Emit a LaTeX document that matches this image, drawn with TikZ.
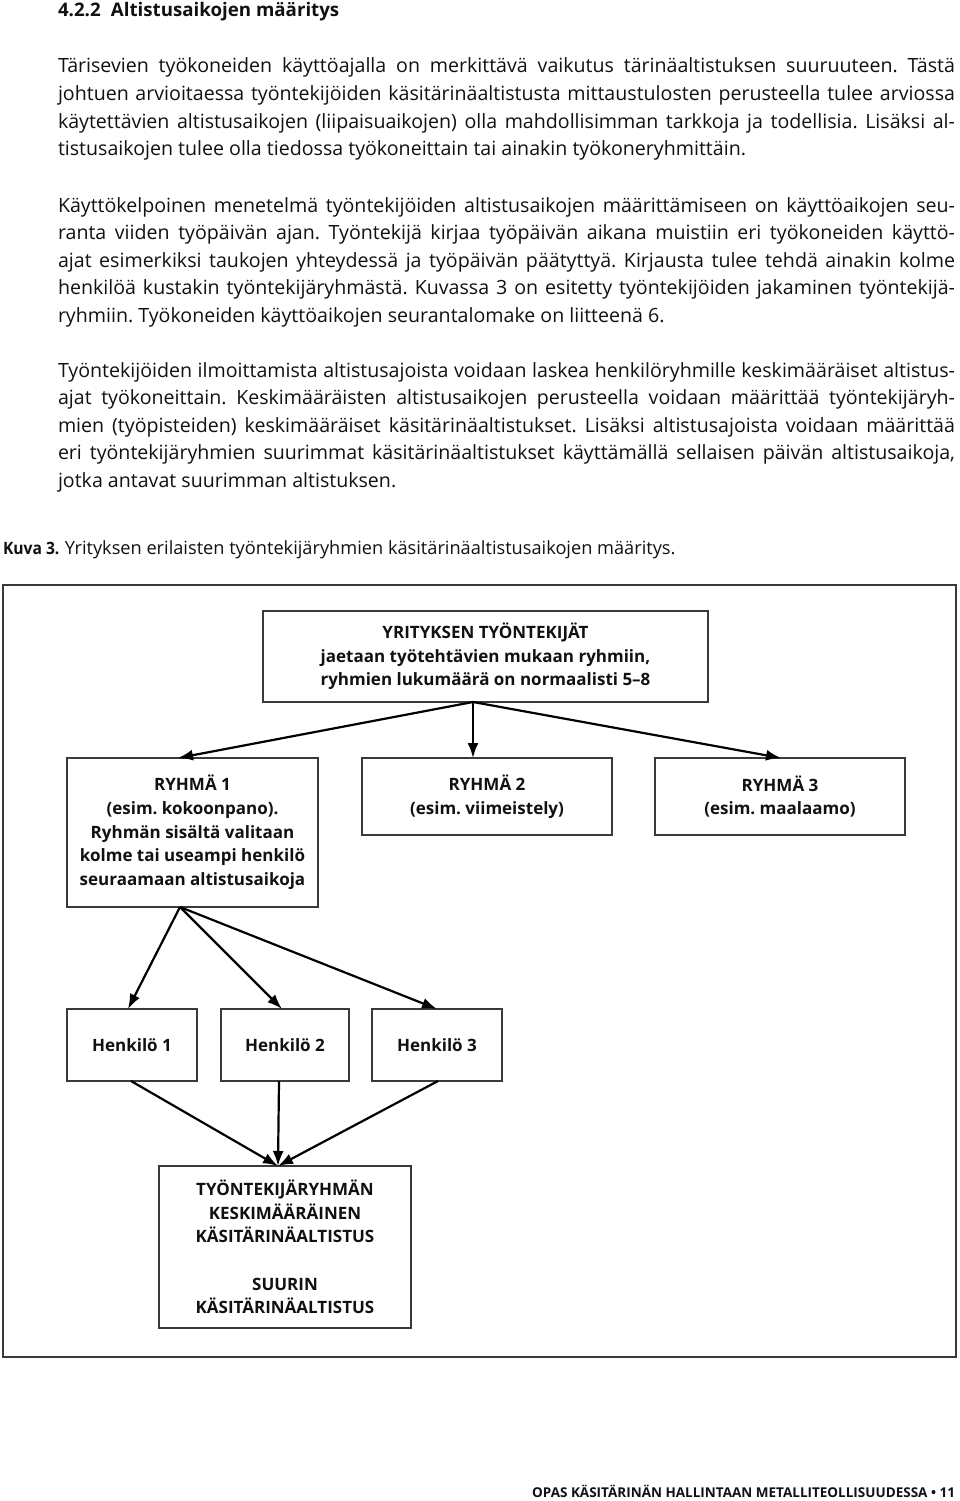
\documentclass[tikz,border=0pt]{standalone}
\usepackage{fontspec}
\setmainfont{Open Sans}
\newfontfamily\bodyfont{Open Sans}
\newfontfamily\capfont[FakeStretch=0.92]{Open Sans}
\usetikzlibrary{arrows.meta}
\definecolor{ink}{HTML}{111111}
\definecolor{boxline}{HTML}{3A3A3A}
\newcommand\jline[1]{\hbox to 897pt{#1}}
\newcommand\lline[1]{\hbox{#1}}
\frenchspacing
\begin{document}
\frenchspacing
\begin{tikzpicture}[x=1pt,y=-1pt,
  txt/.style={inner sep=0pt, outer sep=0pt, text=ink},
  para/.style={txt, anchor=base west, font=\bodyfont\fontsize{19.6}{27.6}\selectfont},
  box/.style={draw=boxline, line width=1.4pt, inner sep=0pt, outer sep=0pt, text=ink, align=center, font=\bfseries\fontsize{17}{23.7}\selectfont},
  arr/.style={line width=2.2pt, draw=black, -{Latex[length=15pt,width=11pt]}},
]
\useasboundingbox (0,0) rectangle (960,1501);
\fill[white] (0,0) rectangle (960,1501);

% heading and body text
\node[txt, anchor=base west, font=\bfseries\fontsize{18.7}{23}\selectfont] (head) at (58,17) {4.2.2\hspace{0.55em}Altistusaikojen määritys};

\node[para] (p1) at (58,73) {\vtop{%
\jline{Tärisevien työkoneiden käyttöajalla on merkittävä vaikutus tärinäaltistuksen suuruuteen. Tästä}%
\jline{johtuen arvioitaessa työntekijöiden käsitärinäaltistusta mittaustulosten perusteella tulee arviossa}%
\jline{käytettävien altistusaikojen (liipaisuaikojen) olla mahdollisimman tarkkoja ja todellisia. Lisäksi al-}%
\lline{tistusaikojen tulee olla tiedossa työkoneittain tai ainakin työkoneryhmittäin.}}};

\node[para] (p2) at (58,212) {\vtop{%
\jline{Käyttökelpoinen menetelmä työntekijöiden altistusaikojen määrittämiseen on käyttöaikojen seu-}%
\jline{ranta viiden työpäivän ajan. Työntekijä kirjaa työpäivän aikana muistiin eri työkoneiden käyttö-}%
\jline{ajat esimerkiksi taukojen yhteydessä ja työpäivän päätyttyä. Kirjausta tulee tehdä ainakin kolme}%
\jline{henkilöä kustakin työntekijäryhmästä. Kuvassa 3 on esitetty työntekijöiden jakaminen työntekijä-}%
\lline{ryhmiin. Työkoneiden käyttöaikojen seurantalomake on liitteenä 6.}}};

\node[para] (p3) at (58,377) {\vtop{%
\jline{Työntekijöiden ilmoittamista altistusajoista voidaan laskea henkilöryhmille keskimääräiset altistus-}%
\jline{ajat työkoneittain. Keskimääräisten altistusaikojen perusteella voidaan määrittää työntekijäryh-}%
\jline{mien (työpisteiden) keskimääräiset käsitärinäaltistukset. Lisäksi altistusajoista voidaan määrittää}%
\jline{eri työntekijäryhmien suurimmat käsitärinäaltistukset käyttämällä sellaisen päivän altistusaikoja,}%
\lline{jotka antavat suurimman altistuksen.}}};

\node[txt, anchor=base west, font=\fontsize{18.2}{20}\selectfont] (cap) at (3,554) {{\capfont\bfseries\fontsize{17}{20}\selectfont Kuva 3.}\hspace{0.3em}Yrityksen erilaisten työntekijäryhmien käsitärinäaltistusaikojen määritys.};

% frame
\node[draw=boxline, line width=1.4pt, inner sep=0pt, outer sep=0pt, minimum width=953pt, minimum height=772pt] (frame) at (479.5,971) {};

% boxes
\node[box, minimum width=445pt, minimum height=91pt] (top) at (485.5,656.5) {YRITYKSEN TYÖNTEKIJÄT\\jaetaan työtehtävien mukaan ryhmiin,\\ryhmien lukumäärä on normaalisti 5–8};
\node[box, minimum width=251pt, minimum height=149pt] (r1) at (192.5,832.5) {RYHMÄ 1\\(esim. kokoonpano).\\Ryhmän sisältä valitaan\\kolme tai useampi henkilö\\seuraamaan altistusaikoja};
\node[box, minimum width=250pt, minimum height=77pt] (r2) at (487,796.5) {RYHMÄ 2\\(esim. viimeistely)};
\node[box, minimum width=250pt, minimum height=77pt] (r3) at (780,796.5) {RYHMÄ 3\\(esim. maalaamo)};
\node[box, minimum width=130pt, minimum height=72pt] (h1) at (132,1045) {Henkilö 1};
\node[box, minimum width=128pt, minimum height=72pt] (h2) at (285,1045) {Henkilö 2};
\node[box, minimum width=130pt, minimum height=72pt] (h3) at (437,1045) {Henkilö 3};
\node[box, minimum width=252pt, minimum height=162pt] (bot) at (285,1247) {TYÖNTEKIJÄRYHMÄN\\KESKIMÄÄRÄINEN\\KÄSITÄRINÄALTISTUS\\[23.7pt]SUURIN\\KÄSITÄRINÄALTISTUS};

% connectors
\coordinate (ts) at ([xshift=-12.5pt]top.south);
\draw[arr] (ts) -- ([xshift=-14.5pt]r1.north);
\draw[arr] (ts) -- ([xshift=-14pt]r2.north);
\draw[arr] (ts) -- ([xshift=1pt]r3.north);

\coordinate (rs) at ([xshift=-12.5pt]r1.south);
\draw[arr] (rs) -- ([xshift=-4pt]h1.north);
\draw[arr] (rs) -- ([xshift=-3pt]h2.north);
\draw[arr] (rs) -- (h3.north);

\coordinate (bin) at ([xshift=-7pt]bot.north);
\draw[arr] ([xshift=-1pt]h1.south) -- (bin);
\draw[arr] ([xshift=-6pt]h2.south) -- (bin);
\draw[arr] ([xshift=1pt]h3.south) -- (bin);

% footer
\node[txt, anchor=base east, font=\bfseries\fontsize{13.5}{16}\selectfont] (foot) at (955,1497) {OPAS KÄSITÄRINÄN HALLINTAAN METALLITEOLLISUUDESSA • 11};
\end{tikzpicture}
\end{document}
